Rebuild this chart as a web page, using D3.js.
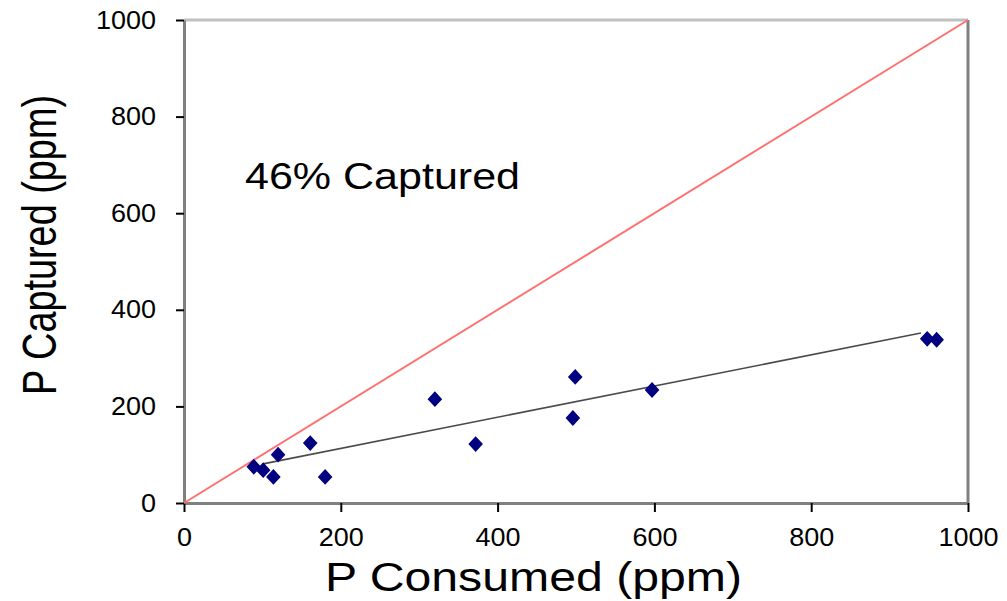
<!DOCTYPE html>
<html>
<head>
<meta charset="utf-8">
<script src="https://cdn.jsdelivr.net/npm/d3@7"></script>
<style>
  body { margin: 0; background: #fff; }
  text { font-family: "Liberation Sans", Arial, sans-serif; fill: #000; }
</style>
</head>
<body>
<div id="chart"></div>
<script>
// values
var consumed = [89, 101, 114, 120, 161, 180, 320, 372, 496, 499, 597, 948, 960];
var captured = [75, 68, 54, 100, 124, 54, 215, 122, 176, 261, 234, 340, 338];
var trendConsumed = [101, 940];
var trendCaptured = [81, 352];
var parity = [0, 1000];
var xTicks = [0, 200, 400, 600, 800, 1000];
var yTicks = [0, 200, 400, 600, 800, 1000];

var width = 1007, height = 601;
var svg = d3.select("#chart").append("svg").attr("width", width).attr("height", height);

var x = d3.scaleLinear().domain([0, 1000]).range([184, 968]);
var y = d3.scaleLinear().domain([0, 1000]).range([503, 20]);

// frame: top/right lighter
svg.append("line").attr("x1", x(0)).attr("x2", x(1000)).attr("y1", y(1000)).attr("y2", y(1000))
  .attr("stroke", "#c0c0c0").attr("stroke-width", 3);
svg.append("line").attr("x1", x(1000)).attr("x2", x(1000)).attr("y1", y(1000)).attr("y2", y(0))
  .attr("stroke", "#808080").attr("stroke-width", 3);

// axes
var fmt = d3.format("d");
var xAxis = svg.append("g").attr("transform", "translate(0," + y(0) + ")")
  .call(d3.axisBottom(x).tickValues(xTicks).tickFormat(fmt).tickSize(9).tickSizeOuter(0).tickPadding(16));
var yAxis = svg.append("g").attr("transform", "translate(" + x(0) + ",0)")
  .call(d3.axisLeft(y).tickValues(yTicks).tickFormat(fmt).tickSize(8).tickSizeOuter(0).tickPadding(20));

[xAxis, yAxis].forEach(function(a){
  a.select(".domain").attr("stroke", "#808080").attr("stroke-width", 3);
  a.selectAll(".tick line").attr("stroke", "#000").attr("stroke-width", 2);
  a.selectAll(".tick text")
    .style("font-size", "25px")
    .attr("fill", "#000")
    .attr("textLength", function(d){ return String(d).length * 15; })
    .attr("lengthAdjust", "spacingAndGlyphs");
});

// 1:1 line
svg.append("line")
  .attr("x1", x(parity[0])).attr("y1", y(parity[0]))
  .attr("x2", x(parity[1])).attr("y2", y(parity[1]))
  .attr("stroke", "#ff7070").attr("stroke-width", 2);

// fitted line
svg.append("line")
  .attr("x1", x(trendConsumed[0])).attr("y1", y(trendCaptured[0]))
  .attr("x2", x(trendConsumed[1])).attr("y2", y(trendCaptured[1]))
  .attr("stroke", "#4a4a4a").attr("stroke-width", 1.6);

// points
var sym = d3.symbol().type(d3.symbolDiamond).size(55);
svg.selectAll(".pt")
  .data(consumed.map(function(c, i){ return {c: c, p: captured[i]}; }))
  .enter()
  .append("path")
  .attr("class", "pt")
  .attr("d", sym)
  .attr("transform", function(d){ return "translate(" + x(d.c) + "," + y(d.p) + ") scale(1.6,1)"; })
  .attr("fill", "#000080")
  .attr("stroke", "#000080")
  .attr("stroke-width", 1);

// annotation
svg.append("text")
  .attr("x", 245).attr("y", 189)
  .style("font-size", "36px")
  .attr("textLength", 275).attr("lengthAdjust", "spacingAndGlyphs")
  .text("46% Captured");

// axis titles
svg.append("text")
  .attr("x", 325).attr("y", 591)
  .style("font-size", "40px")
  .attr("textLength", 417).attr("lengthAdjust", "spacingAndGlyphs")
  .text("P Consumed (ppm)");

svg.append("text")
  .attr("transform", "translate(56,395) rotate(-90)")
  .style("font-size", "48px")
  .attr("textLength", 300).attr("lengthAdjust", "spacingAndGlyphs")
  .text("P Captured (ppm)");
</script>
</body>
</html>
